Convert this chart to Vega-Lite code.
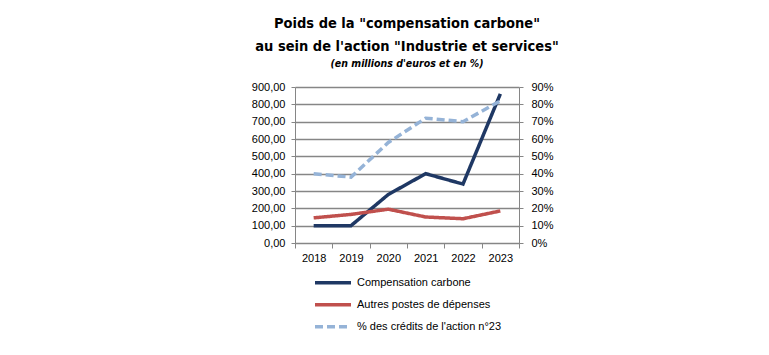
{
  "$schema": "https://vega.github.io/schema/vega-lite/v6.json",
  "width": 224,
  "height": 156,
  "autosize": {"type": "none"},
  "padding": {"left": 295, "top": 87, "right": 250, "bottom": 112},
  "background": "white",
  "config": {
    "view": {"stroke": null},
    "font": "Liberation Sans",
    "axis": {"labelFont": "Liberation Sans", "labelFontSize": 11, "labelColor": "#000000", "domainColor": "#868686", "tickColor": "#868686", "gridColor": "#868686", "gridOpacity": 1, "title": null}
  },
  "title": {
    "text": ["Poids de la \"compensation carbone\"", "au sein de l'action \"Industrie et services\""],
    "subtitle": "(en millions d'euros et en %)",
    "font": "DejaVu Sans Condensed",
    "fontSize": 14.5,
    "fontWeight": "bold",
    "lineHeight": 23,
    "color": "#000000",
    "subtitleFont": "DejaVu Sans Condensed",
    "subtitleFontSize": 10.5,
    "subtitleFontStyle": "italic",
    "subtitleFontWeight": "bold",
    "subtitleColor": "#000000",
    "subtitlePadding": 4,
    "anchor": "middle",
    "offset": 11
  },
  "data": {
    "values": [
      {"year": "2018", "series": "Compensation carbone", "axis": "left", "value": 100},
      {"year": "2019", "series": "Compensation carbone", "axis": "left", "value": 100},
      {"year": "2020", "series": "Compensation carbone", "axis": "left", "value": 280},
      {"year": "2021", "series": "Compensation carbone", "axis": "left", "value": 400},
      {"year": "2022", "series": "Compensation carbone", "axis": "left", "value": 340},
      {"year": "2023", "series": "Compensation carbone", "axis": "left", "value": 860},
      {"year": "2018", "series": "Autres postes de dépenses", "axis": "left", "value": 145},
      {"year": "2019", "series": "Autres postes de dépenses", "axis": "left", "value": 165},
      {"year": "2020", "series": "Autres postes de dépenses", "axis": "left", "value": 195},
      {"year": "2021", "series": "Autres postes de dépenses", "axis": "left", "value": 150},
      {"year": "2022", "series": "Autres postes de dépenses", "axis": "left", "value": 140},
      {"year": "2023", "series": "Autres postes de dépenses", "axis": "left", "value": 185},
      {"year": "2018", "series": "% des crédits de l'action n°23", "axis": "right", "value": 0.40},
      {"year": "2019", "series": "% des crédits de l'action n°23", "axis": "right", "value": 0.38},
      {"year": "2020", "series": "% des crédits de l'action n°23", "axis": "right", "value": 0.58},
      {"year": "2021", "series": "% des crédits de l'action n°23", "axis": "right", "value": 0.72},
      {"year": "2022", "series": "% des crédits de l'action n°23", "axis": "right", "value": 0.70},
      {"year": "2023", "series": "% des crédits de l'action n°23", "axis": "right", "value": 0.82}
    ]
  },
  "encoding": {
    "x": {
      "field": "year", "type": "ordinal",
      "scale": {"type": "band", "paddingInner": 0, "paddingOuter": 0},
      "axis": {"labelAngle": 0, "tickBand": "extent", "tickSize": 5, "labelPadding": 4, "grid": false, "domainColor": "#868686"}
    },
    "color": {
      "field": "series", "type": "nominal",
      "scale": {"domain": ["Compensation carbone", "Autres postes de dépenses", "% des crédits de l'action n°23"], "range": ["#1F3864", "#C0504D", "#95B3D7"]},
      "legend": {
        "title": null, "orient": "none", "legendX": 18, "legendY": 185, "direction": "vertical",
        "symbolType": "stroke", "symbolSize": 1296, "symbolStrokeWidth": 3.5,
        "labelFont": "Liberation Sans", "labelFontSize": 11, "labelColor": "#000000",
        "labelOffset": 4, "rowPadding": 0, "clipHeight": 21.5, "padding": 0, "labelLimit": 300
      }
    },
    "strokeDash": {
      "field": "series", "type": "nominal",
      "scale": {"domain": ["Compensation carbone", "Autres postes de dépenses", "% des crédits de l'action n°23"], "range": [[1, 0], [1, 0], [8, 4]]},
      "legend": {
        "title": null, "orient": "none", "legendX": 18, "legendY": 185, "direction": "vertical",
        "symbolType": "stroke", "symbolSize": 1296, "symbolStrokeWidth": 3.5,
        "labelFont": "Liberation Sans", "labelFontSize": 11, "labelColor": "#000000",
        "labelOffset": 4, "rowPadding": 0, "clipHeight": 21.5, "padding": 0, "labelLimit": 300
      }
    }
  },
  "layer": [
    {
      "transform": [{"filter": "datum.axis == 'left'"}],
      "mark": {"type": "line", "strokeWidth": 3.5, "strokeJoin": "miter"},
      "encoding": {
        "y": {
          "field": "value", "type": "quantitative",
          "scale": {"domain": [0, 900], "nice": false},
          "axis": {"values": [0, 100, 200, 300, 400, 500, 600, 700, 800, 900], "labelExpr": "replace(format(datum.value, '.2f'), '.', ',')", "tickSize": 4, "labelPadding": 6, "grid": true, "gridWidth": 1.5, "orient": "left"}
        }
      }
    },
    {
      "transform": [{"filter": "datum.axis == 'right'"}],
      "mark": {"type": "line", "strokeWidth": 3.5},
      "encoding": {
        "y": {
          "field": "value", "type": "quantitative",
          "scale": {"domain": [0, 0.9], "nice": false},
          "axis": {"orient": "right", "values": [0, 0.1, 0.2, 0.3, 0.4, 0.5, 0.6, 0.7, 0.8, 0.9], "format": ".0%", "tickSize": 4, "labelPadding": 8, "grid": false}
        }
      }
    }
  ],
  "resolve": {"scale": {"y": "independent"}}
}
